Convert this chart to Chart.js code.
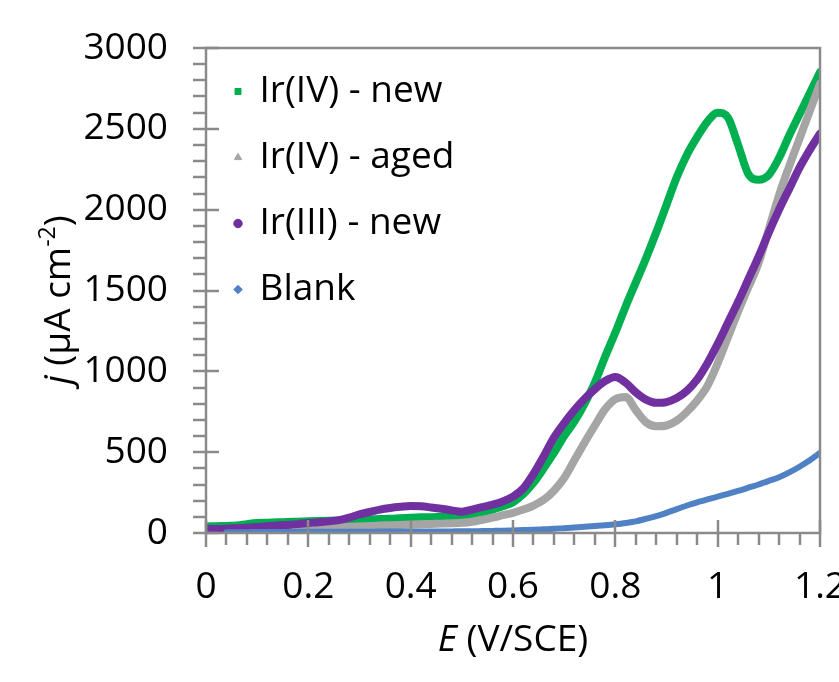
<!DOCTYPE html>
<html>
<head>
<meta charset="utf-8">
<script src="https://cdn.jsdelivr.net/npm/chart.js@4.4.1/dist/chart.umd.min.js"></script>
<style>
  html, body { margin: 0; padding: 0; background: #fff; }
  #wrap { width: 839px; height: 682px; }
</style>
</head>
<body>
<div id="wrap"><canvas id="cv"></canvas></div>
<script>
const potential = [0, 0.02, 0.04, 0.06, 0.08, 0.1, 0.12, 0.14, 0.16, 0.18, 0.2, 0.22, 0.24, 0.26, 0.28, 0.3,
  0.32, 0.34, 0.36, 0.38, 0.4, 0.42, 0.44, 0.46, 0.48, 0.5, 0.52, 0.54, 0.56, 0.58, 0.6,
  0.62, 0.64, 0.66, 0.68, 0.7, 0.72, 0.74, 0.76, 0.78, 0.8, 0.82, 0.84, 0.86, 0.88, 0.9,
  0.92, 0.94, 0.96, 0.98, 1, 1.02, 1.04, 1.06, 1.08, 1.1, 1.12, 1.14, 1.16, 1.18, 1.2];

const ir4New = [40, 42, 44, 46, 55, 62, 64, 66, 68, 70, 72, 74, 76, 78, 80, 82,
  84, 86, 88, 92, 95, 97, 98, 100, 102, 106, 115, 128, 145, 165, 190,
  240, 310, 400, 495, 600, 690, 800, 930, 1090, 1240, 1400, 1550, 1700, 1860, 2030,
  2200, 2340, 2450, 2545, 2600, 2570, 2400, 2220, 2185, 2215, 2320, 2460, 2590, 2720, 2850];

const ir4Aged = [20, 20, 21, 22, 23, 24, 25, 27, 28, 30, 31, 33, 35, 37, 38, 40,
  43, 46, 48, 50, 52, 54, 56, 58, 60, 63, 70, 82, 95, 110, 125,
  145, 170, 205, 262, 340, 450, 560, 665, 765, 828, 842, 760, 685, 660, 665,
  695, 750, 820, 910, 1050, 1210, 1370, 1520, 1670, 1880, 2090, 2270, 2440, 2610, 2780];

const ir3New = [25, 25, 27, 30, 33, 37, 42, 46, 50, 55, 62, 66, 72, 80, 95, 115,
  130, 145, 155, 162, 167, 165, 158, 150, 140, 132, 145, 160, 175, 195, 225,
  275, 365, 475, 590, 680, 760, 830, 890, 940, 965, 930, 870, 825, 805, 810,
  835, 880, 950, 1050, 1170, 1300, 1430, 1570, 1710, 1860, 2000, 2130, 2260, 2370, 2470];

const blank = [null, null, 5, 5, 5, 6, 6, 6, 6, 7, 7, 7, 7, 8, 8, 8,
  8, 9, 9, 9, 9, 10, 10, 10, 10, 11, 11, 12, 13, 14, 16,
  18, 20, 23, 26, 30, 34, 38, 43, 48, 54, 62, 72, 88, 105, 125,
  148, 170, 190, 208, 225, 242, 260, 280, 300, 322, 345, 375, 410, 450, 495];

const xTicks = [0, 0.2, 0.4, 0.6, 0.8, 1, 1.2];
const yTicks = [0, 500, 1000, 1500, 2000, 2500, 3000];

const FONT = '"Open Sans", "DejaVu Sans", sans-serif';
const FS = 37;
const AXIS = '#8a8a8a';

function pts(ys) {
  return potential.map((x, i) => ({ x: x, y: ys[i] }));
}

// frame + Excel-style tick marks, drawn from the scales
const frameTicks = {
  id: 'frameTicks',
  afterDatasetsDraw(chart) {
    const { ctx, chartArea: a, scales } = chart;
    const xs = scales.x, ys = scales.y;
    ctx.save();
    ctx.strokeStyle = AXIS;
    ctx.lineWidth = 2.5;
    ctx.strokeRect(a.left, a.top, a.right - a.left, a.bottom - a.top);
    ctx.beginPath();
    for (let v = 0; v <= 3000; v += 100) {
      const y = Math.round(ys.getPixelForValue(v));
      const major = v % 500 === 0;
      ctx.moveTo(a.left - 13, y);
      ctx.lineTo(major ? a.left + 13 : a.left, y);
    }
    for (let k = 0; k <= 30; k++) {
      const x = Math.round(xs.getPixelForValue(k * 0.04));
      const major = k % 5 === 0;
      ctx.moveTo(x, major ? a.bottom - 13 : a.bottom);
      ctx.lineTo(x, a.bottom + (major ? 14 : 12));
    }
    ctx.stroke();
    ctx.restore();
  },
  afterDraw(chart) {
    const { ctx, chartArea: a } = chart;
    ctx.save();
    ctx.fillStyle = '#000';
    ctx.textBaseline = 'alphabetic';
    // x title: E (V/SCE)
    const f = FS + 'px ' + FONT, fi = 'italic ' + FS + 'px ' + FONT;
    ctx.font = fi; const wE = ctx.measureText('E').width;
    ctx.font = f; const wR = ctx.measureText(' (V/SCE)').width;
    let x0 = (a.left + a.right) / 2 - (wE + wR) / 2;
    ctx.font = fi; ctx.fillText('E', x0, 651);
    ctx.font = f; ctx.fillText(' (V/SCE)', x0 + wE, 651);
    // y title: j (µA cm-2)
    ctx.translate(70, 300);
    ctx.rotate(-Math.PI / 2);
    const sf = '23px ' + FONT;
    ctx.font = fi; const wj = ctx.measureText('j').width;
    ctx.font = f; const w1 = ctx.measureText(' (\u03bcA cm').width;
    ctx.font = sf; const w2 = ctx.measureText('-2').width;
    ctx.font = f; const w3 = ctx.measureText(')').width;
    let p = -(wj + w1 + w2 + w3) / 2;
    ctx.font = fi; ctx.fillText('j', p, 0); p += wj;
    ctx.font = f; ctx.fillText(' (\u03bcA cm', p, 0); p += w1;
    ctx.font = sf; ctx.fillText('-2', p, -15); p += w2;
    ctx.font = f; ctx.fillText(')', p, 0);
    ctx.restore();
  }
};

const ctx = document.getElementById('cv').getContext('2d');
new Chart(ctx, {
  type: 'scatter',
  data: {
    datasets: [
      { label: 'Ir(IV) - new', data: pts(ir4New), borderColor: '#00b050', backgroundColor: '#00b050',
        pointStyle: 'rect', borderWidth: 8, order: 3 },
      { label: 'Ir(IV) - aged', data: pts(ir4Aged), borderColor: '#a5a5a5', backgroundColor: '#a5a5a5',
        pointStyle: 'triangle', borderWidth: 8, order: 2 },
      { label: 'Ir(III) - new', data: pts(ir3New), borderColor: '#7030a0', backgroundColor: '#7030a0',
        pointStyle: 'circle', borderWidth: 8, order: 1 },
      { label: 'Blank', data: pts(blank), borderColor: '#4f81c4', backgroundColor: '#4f81c4',
        pointStyle: 'rectRot', borderWidth: 6, order: 0 }
    ]
  },
  options: {
    responsive: true,
    maintainAspectRatio: false,
    animation: false,
    showLine: true,
    elements: {
      point: { radius: 0, hoverRadius: 0 },
      line: { cubicInterpolationMode: 'monotone', borderCapStyle: 'round', borderJoinStyle: 'round' }
    },
    layout: { padding: { top: 48, right: 19, left: 0, bottom: 0 } },
    scales: {
      x: {
        type: 'linear', min: 0, max: 1.2,
        grid: { display: false, drawTicks: false },
        border: { display: false },
        afterBuildTicks(s) { s.ticks = xTicks.map(v => ({ value: v })); },
        afterFit(s) { s.height = 149; s.paddingLeft = 0; s.paddingRight = 0; },
        ticks: {
          padding: 32, color: '#000', maxRotation: 0, autoSkip: false,
          font: { family: FONT, size: FS },
          callback: v => String(v)
        }
      },
      y: {
        min: 0, max: 3000,
        grid: { display: false, drawTicks: false },
        border: { display: false },
        afterBuildTicks(s) { s.ticks = yTicks.map(v => ({ value: v })); },
        afterFit(s) { s.width = 206; s.paddingTop = 0; s.paddingBottom = 0; },
        ticks: {
          padding: 38, color: '#000',
          font: { family: FONT, size: FS },
          callback: v => String(v)
        }
      }
    },
    plugins: {
      legend: {
        position: 'chartArea',
        align: 'start',
        title: { display: true, text: ' ', font: { size: 10, lineHeight: 1 }, padding: 17 },
        labels: {
          usePointStyle: true,
          boxHeight: 6,
          boxWidth: 6,
          padding: 29,
          color: '#000',
          font: { family: FONT, size: FS },
          sort: (a, b) => a.datasetIndex - b.datasetIndex,
          generateLabels(chart) {
            return Chart.defaults.plugins.legend.labels.generateLabels(chart)
              .map(l => Object.assign(l, { lineWidth: 1 }));
          }
        }
      },
      tooltip: { enabled: false }
    }
  },
  plugins: [frameTicks]
});
</script>
</body>
</html>
